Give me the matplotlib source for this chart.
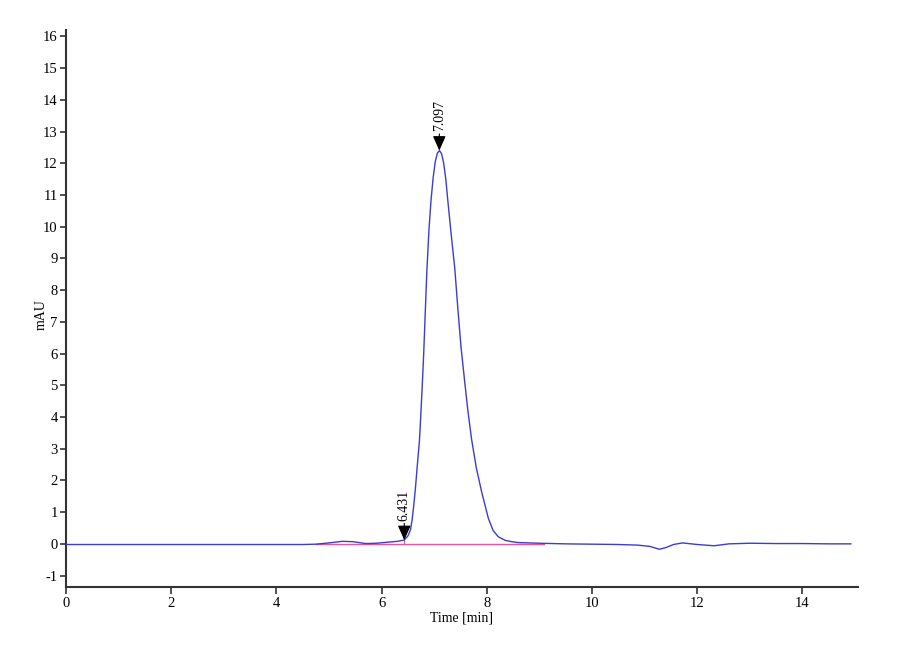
import matplotlib.pyplot as plt

plt.rcParams['font.family'] = ['Liberation Serif', 'DejaVu Serif']
plt.rcParams['axes.unicode_minus'] = False

# chromatogram trace (time in min, signal in mAU)
time = [0.0, 1.0, 2.0, 3.0, 4.0, 4.5, 4.75, 5.0, 5.25, 5.45, 5.7, 5.9, 6.1, 6.3,
        6.43, 6.50, 6.55, 6.58, 6.61, 6.64, 6.68, 6.72, 6.74, 6.77, 6.80, 6.83,
        6.86, 6.90, 6.94, 6.98, 7.02, 7.06, 7.10, 7.14, 7.18, 7.22, 7.26, 7.32,
        7.39, 7.45, 7.51, 7.58, 7.64, 7.71, 7.80, 7.90, 8.03, 8.12, 8.22, 8.35,
        8.47, 8.6, 8.8, 9.0, 9.5, 10.0, 10.5, 10.87, 11.1, 11.28, 11.4, 11.55,
        11.72, 12.0, 12.32, 12.6, 13.0, 13.5, 14.0, 14.5, 14.92]
signal = [-0.02, -0.02, -0.02, -0.02, -0.02, -0.02, -0.01, 0.03, 0.08, 0.07, 0.01,
          0.02, 0.05, 0.08, 0.12, 0.25, 0.45, 0.76, 1.2, 1.7, 2.5, 3.28, 3.9, 4.9,
          6.0, 7.3, 8.6, 9.9, 10.85, 11.55, 12.05, 12.32, 12.4, 12.3, 12.0, 11.5,
          10.8, 9.8, 8.7, 7.4, 6.2, 5.1, 4.2, 3.3, 2.4, 1.65, 0.8, 0.42, 0.22, 0.11,
          0.07, 0.04, 0.03, 0.02, 0.0, -0.01, -0.02, -0.04, -0.08, -0.17, -0.12,
          -0.02, 0.03, -0.02, -0.06, 0.0, 0.02, 0.01, 0.01, 0.0, 0.0]

# integration baseline and peak marks
baseline_t = [4.75, 9.09]
baseline_y = [0.0, 0.0]
peak_rt = [6.431, 7.097]
peak_h = [0.12, 12.4]
peak_labels = ['6.431', '7.097']

fig = plt.figure(figsize=(9, 6.6), dpi=100)
ax = fig.add_axes([0.0733, 0.1106, 0.8797, 0.8439])

ax.plot(time, signal, color='#3b3bd8', lw=1.0, zorder=3)
ax.plot(baseline_t, baseline_y, color='#e8559c', lw=1.0, zorder=2)
# drop line at the first peak start
ax.plot([peak_rt[0], peak_rt[0]], [0, peak_h[0]], color='#e8559c', lw=0.8, zorder=2)

for rt, h, lab in zip(peak_rt, peak_h, peak_labels):
    ax.annotate(lab, xy=(rt, h), xytext=(0, 14), textcoords='offset points',
                rotation=90, ha='center', va='bottom', fontsize=10,
                arrowprops=dict(arrowstyle='-|>,head_length=0.9,head_width=0.4',
                                color='black', lw=0.8, shrinkA=0, shrinkB=0),
                zorder=4)

ax.set_xlim(0, 15.05)
ax.set_ylim(-1.36, 16.2)
ax.set_xticks(range(0, 15, 2))
ax.set_yticks(range(-1, 17))

for s in ['top', 'right']:
    ax.spines[s].set_visible(False)
for s in ['left', 'bottom']:
    ax.spines[s].set_linewidth(1.5)
    ax.spines[s].set_color('#333333')

ax.tick_params(axis='both', direction='out', labelsize=10.5, width=1.2,
               color='#333333', pad=2)
ax.tick_params(axis='y', length=4)
ax.tick_params(axis='x', length=5)

ax.set_xlabel('Time [min]', fontsize=10, labelpad=1)
ax.set_ylabel('mAU', fontsize=10)
ax.yaxis.set_label_coords(-0.023, 0.49)

fig.savefig('out.png', dpi=100)
